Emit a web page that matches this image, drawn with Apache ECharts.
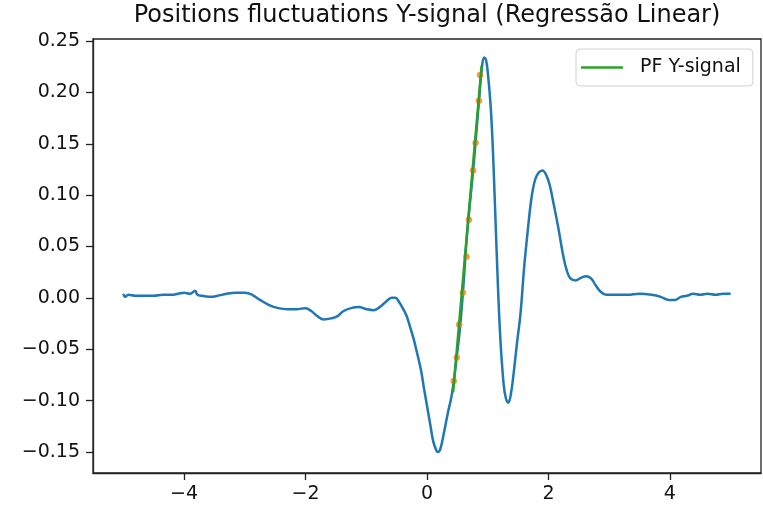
<!DOCTYPE html>
<html>
<head>
<meta charset="utf-8">
<script src="https://cdn.jsdelivr.net/npm/echarts@6/dist/echarts.min.js"></script>
<style>
  html, body { margin: 0; padding: 0; background: #fff; }
  #chart { width: 763px; height: 508px; }
</style>
</head>
<body>
<div id="chart"></div>
<script>
// blue curve, position fluctuations of the Y signal
var signalX = [-5.00, -4.97, -4.92, -4.80, -4.65, -4.50, -4.35, -4.20, -4.10, -4.00,
  -3.90, -3.82, -3.78, -3.70, -3.55, -3.45, -3.30, -3.15, -3.00, -2.88,
  -2.75, -2.60, -2.45, -2.30, -2.15, -2.00, -1.90, -1.80, -1.70, -1.58,
  -1.48, -1.38, -1.25, -1.12, -1.00, -0.88, -0.78, -0.68, -0.58, -0.52,
  -0.46, -0.40, -0.34, -0.28, -0.22, -0.17, -0.10, -0.05, 0.00, 0.05,
  0.10, 0.15, 0.18, 0.22, 0.28, 0.34, 0.40, 0.43, 0.48, 0.54,
  0.60, 0.65, 0.70, 0.76, 0.80, 0.86, 0.90, 0.94, 0.97, 1.00,
  1.05, 1.09, 1.14, 1.20, 1.26, 1.30, 1.34, 1.38, 1.42, 1.48,
  1.54, 1.60, 1.66, 1.72, 1.78, 1.84, 1.90, 1.96, 2.02, 2.08,
  2.16, 2.24, 2.30, 2.36, 2.45, 2.55, 2.62, 2.70, 2.78, 2.86,
  2.95, 3.10, 3.30, 3.50, 3.70, 3.85, 3.98, 4.08, 4.18, 4.28,
  4.38, 4.50, 4.62, 4.75, 4.88, 5.00];
var signalY = [0.004, 0.001, 0.003, 0.002, 0.002, 0.002, 0.003, 0.003, 0.004, 0.005,
  0.004, 0.007, 0.003, 0.002, 0.001, 0.002, 0.004, 0.005, 0.005, 0.003,
  -0.002, -0.007, -0.010, -0.011, -0.011, -0.010, -0.013, -0.018, -0.021, -0.020,
  -0.018, -0.013, -0.010, -0.009, -0.011, -0.012, -0.009, -0.004, 0.000, 0.000,
  -0.004, -0.010, -0.017, -0.028, -0.040, -0.052, -0.070, -0.088, -0.105, -0.122,
  -0.139, -0.148, -0.150, -0.147, -0.131, -0.113, -0.097, -0.086, -0.062, -0.031,
  0.012, 0.055, 0.088, 0.124, 0.152, 0.195, 0.222, 0.234, 0.232, 0.220,
  0.185, 0.137, 0.056, -0.031, -0.083, -0.098, -0.102, -0.094, -0.077, -0.045,
  -0.015, 0.030, 0.066, 0.097, 0.115, 0.122, 0.124, 0.120, 0.110, 0.093,
  0.069, 0.042, 0.027, 0.019, 0.017, 0.020, 0.021, 0.019, 0.012, 0.006,
  0.003, 0.003, 0.003, 0.004, 0.003, 0.001, -0.002, -0.002, 0.001, 0.002,
  0.004, 0.003, 0.004, 0.003, 0.004, 0.004];

// orange samples used for the fit
var sampleX = [0.44, 0.49, 0.53, 0.59, 0.65, 0.69, 0.76, 0.80, 0.855, 0.875];
var sampleY = [-0.081, -0.058, -0.026, 0.005, 0.040, 0.076, 0.124, 0.151, 0.192, 0.217];

// green regression line
var fitX = [0.43, 0.90];
var fitY = [-0.092, 0.226];

var xTicks = [-4, -2, 0, 2, 4];
var yTicks = [-0.15, -0.10, -0.05, 0.00, 0.05, 0.10, 0.15, 0.20, 0.25];

function zip(xs, ys) {
  return xs.map(function (x, i) { return [x, ys[i]]; });
}
function minus(s) {
  return String(s).replace('-', '\u2212');
}

var FONT = 'DejaVu Sans';
var chart = echarts.init(document.getElementById('chart'), null, { renderer: 'canvas' });

var option = {
  animation: false,
  backgroundColor: '#fff',
  title: {
    text: 'Positions fluctuations Y-signal (Regressão Linear)',
    left: 427,
    textAlign: 'center',
    top: 4,
    padding: 0,
    textStyle: { fontFamily: FONT, fontSize: 24, fontWeight: 'normal', color: '#111' }
  },
  legend: {
    data: ['PF Y-signal'],
    left: 576,
    top: 49,
    padding: [9, 12, 9, 5],
    icon: 'rect',
    itemWidth: 42,
    itemHeight: 2.5,
    borderColor: '#d0d0d0',
    borderWidth: 1,
    borderRadius: 4,
    backgroundColor: 'rgba(255,255,255,0.8)',
    textStyle: { fontFamily: FONT, fontSize: 19, lineHeight: 18, color: '#111', padding: [0, 0, 0, 12] }
  },
  grid: {
    left: 93, right: 2, top: 39, bottom: 35,
    show: true,
    borderColor: '#222',
    borderWidth: 1.3
  },
  xAxis: {
    type: 'value',
    min: -5.5,
    max: 5.5,
    axisLine: { show: true, onZero: false, lineStyle: { color: '#222', width: 1.3 } },
    axisTick: { show: true, length: 7, customValues: xTicks, lineStyle: { color: '#222', width: 1.3 } },
    axisLabel: {
      customValues: xTicks,
      margin: 12,
      fontFamily: FONT, fontSize: 19, color: '#111',
      formatter: function (v) { return minus(v); }
    },
    splitLine: { show: false }
  },
  yAxis: {
    type: 'value',
    min: -0.1705,
    max: 0.252,
    axisLine: { show: true, onZero: false, lineStyle: { color: '#222', width: 1.3 } },
    axisTick: { show: true, length: 7, customValues: yTicks, lineStyle: { color: '#222', width: 1.3 } },
    axisLabel: {
      customValues: yTicks,
      margin: 13,
      fontFamily: FONT, fontSize: 19, color: '#111',
      formatter: function (v) { return minus(v.toFixed(2)); }
    },
    splitLine: { show: false }
  },
  series: [
    {
      name: 'signal',
      type: 'line',
      data: zip(signalX, signalY),
      symbol: 'none',
      smooth: 0.4,
      lineStyle: { color: '#1f77b4', width: 2.5 },
      z: 2
    },
    {
      name: 'samples',
      type: 'scatter',
      data: zip(sampleX, sampleY),
      symbolSize: 6.5,
      itemStyle: { color: '#ff7f0e', opacity: 0.8 },
      z: 3
    },
    {
      name: 'PF Y-signal',
      type: 'line',
      data: zip(fitX, fitY),
      symbol: 'none',
      lineStyle: { color: '#2ca02c', width: 2.5 },
      itemStyle: { color: '#2ca02c' },
      z: 4
    }
  ]
};

chart.setOption(option);
</script>
</body>
</html>
